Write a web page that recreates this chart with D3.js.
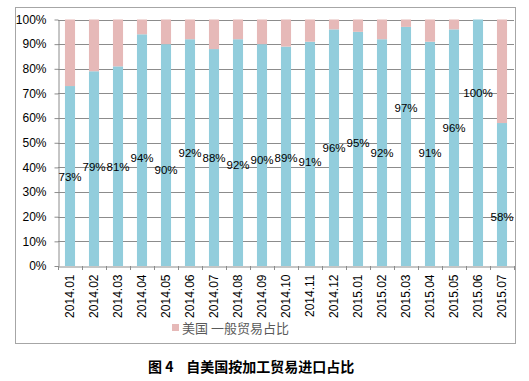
<!DOCTYPE html>
<html><head><meta charset="utf-8">
<script src="https://cdn.jsdelivr.net/npm/d3@7"></script>
<style>body{margin:0;background:#fff}svg{display:block}</style>
</head><body>
<svg id="c" width="529" height="381"></svg>
<script>
const categories = ["2014.01","2014.02","2014.03","2014.04","2014.05","2014.06","2014.07","2014.08","2014.09","2014.10","2014.11","2014.12","2015.01","2015.02","2015.03","2015.04","2015.05","2015.06","2015.07"];
const processingShare = [73,79,81,94,90,92,88,92,90,89,91,96,95,92,97,91,96,100,58];
const generalShare = processingShare.map(v => 100 - v);
// where each data label sits, in percent units of the value axis
const labelAt = [36,40,40,44,39,46,44,41,43,44,42,48,50,46,64,46,56,70,20];
const yTicks = [0,10,20,30,40,50,60,70,80,90,100];
const legendLabel = "美国 一般贸易占比";
const titleText = "图 4    自美国按加工贸易进口占比";

const svg = d3.select("#c");
const m = {l:58, r:514, t:19.5, b:266};
const x = d3.scaleBand().domain(categories).range([m.l, m.r]).paddingInner(0.58).paddingOuter(0.29);
const y = d3.scaleLinear().domain([0,100]).range([m.b, m.t]);
const blue = "#92CDDC", pink = "#E6B9B8", grid = "#8c8c8c";

// chart border
svg.append("rect").attr("x",15.5).attr("y",7.5).attr("width",500).attr("height",336)
  .attr("fill","none").attr("stroke","#a6a6a6");

// gridlines
svg.append("g").selectAll("line").data(yTicks.filter(d=>d>0)).join("line")
  .attr("x1",m.l).attr("x2",m.r).attr("y1",d=>Math.round(y(d))+0.5).attr("y2",d=>Math.round(y(d))+0.5)
  .attr("stroke",grid).attr("stroke-width",1);

// bars
const bw = x.bandwidth();
svg.append("g").selectAll("rect").data(categories).join("rect")
  .attr("x",(d)=>x(d)).attr("width",bw)
  .attr("y",(d,i)=>y(processingShare[i])).attr("height",(d,i)=>y(0)-y(processingShare[i]))
  .attr("fill",blue);
svg.append("g").selectAll("rect").data(categories).join("rect")
  .attr("x",(d)=>x(d)).attr("width",bw)
  .attr("y",(d,i)=>y(100)).attr("height",(d,i)=>y(processingShare[i])-y(100))
  .attr("fill",pink);

// y axis
const ya = svg.append("g").attr("transform",`translate(${m.l+0.5},0)`)
  .call(d3.axisLeft(y).tickValues(yTicks).tickFormat(d=>d+"%").tickSize(4).tickSizeOuter(0));
ya.select(".domain").attr("stroke",grid);
ya.selectAll(".tick line").attr("stroke",grid);
ya.selectAll("text").attr("font-family","Liberation Sans, Arial, sans-serif").attr("font-size",12).attr("fill","#000").attr("x",-12);

// x axis
const xa = svg.append("g").attr("transform",`translate(0,${m.b+0.5})`)
  .call(d3.axisBottom(x).tickSize(0).tickSizeOuter(0));
xa.select(".domain").attr("stroke",grid);
xa.selectAll("text").attr("font-family","Liberation Sans, Arial, sans-serif").attr("font-size",12).attr("fill","#000")
  .attr("transform","rotate(-90)").attr("text-anchor","end").attr("x",-8).attr("y",0).attr("dy","0.35em");
// boundary ticks
const step = x.step();
svg.append("g").selectAll("line").data(d3.range(categories.length+1)).join("line")
  .attr("x1",i=>Math.round(m.l + i*step)+0.5).attr("x2",i=>Math.round(m.l + i*step)+0.5)
  .attr("y1",m.b).attr("y2",m.b+4).attr("stroke",grid);

// data labels
svg.append("g").selectAll("text").data(categories).join("text")
  .attr("x",d=>x(d)+bw/2).attr("y",(d,i)=>y(labelAt[i])).attr("dy","0.35em")
  .attr("text-anchor","middle").attr("font-family","Liberation Sans, Arial, sans-serif").attr("font-size",11.5)
  .attr("fill","#000").text((d,i)=>processingShare[i]+"%");

// legend
svg.append("rect").attr("x",172).attr("y",324).attr("width",7).attr("height",7).attr("fill",pink);
svg.append("text").attr("x",182).attr("y",328).attr("dy","0.35em")
  .attr("font-family","Noto Sans CJK SC, sans-serif").attr("font-size",13).attr("fill","#595959").text(legendLabel);

// title
svg.append("text").attr("x",148).attr("y",367).attr("dy","0.35em").attr("xml:space","preserve")
  .style("white-space","pre")
  .attr("font-family","Noto Sans CJK SC, sans-serif").attr("font-weight","bold").attr("font-size",14).attr("fill","#000").text(titleText);
</script>
</body></html>
